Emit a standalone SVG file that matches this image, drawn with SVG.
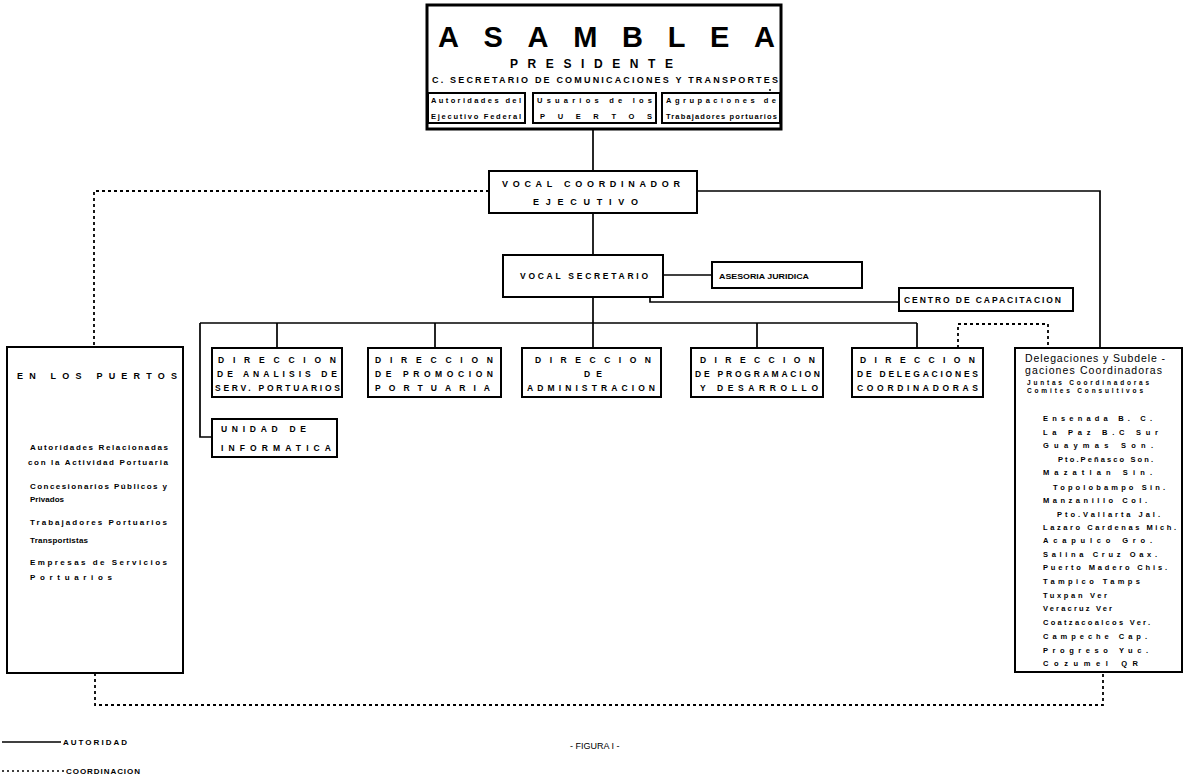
<svg xmlns="http://www.w3.org/2000/svg" width="1186" height="779" viewBox="0 0 1186 779">
<style>
.box{fill:#fff;stroke:#000;stroke-width:2}
.thick{fill:#fff;stroke:#000;stroke-width:3}
.ln{stroke:#000;stroke-width:1.7;fill:none}
.dot{stroke:#000;stroke-width:1.8;fill:none;stroke-dasharray:3 3}
text{font-family:"Liberation Sans",Arial,sans-serif;font-weight:bold;fill:#000}
text.n{font-weight:normal}
.s7{font-size:7.5px}
.s75{font-size:8.5px}
.s8{font-size:9px}
.s8r{font-size:8px}
</style>
<rect width="1186" height="779" fill="#fff"/>

<g id="connectors">
  <path class="ln" d="M593,129 V171"/>
  <path class="ln" d="M593,213 V255"/>
  <path class="ln" d="M697,191 H1100 V348"/>
  <path class="dot" d="M489,191 H94 V347"/>
  <path class="ln" d="M663,275 H712"/>
  <path class="ln" d="M650,297 V302 H899"/>
  <path class="ln" d="M593,297 V323"/>
  <path class="ln" d="M200,323 H917"/>
  <path class="ln" d="M277,323 V348 M435,323 V348 M593,323 V348 M757,323 V348 M917,323 V348"/>
  <path class="ln" d="M200,323 V437 H212"/>
  <path class="dot" d="M958,348 V324 H1048 V348"/>
  <path class="dot" d="M95,673 V705 H1103 V672"/>
</g>

<g id="asamblea">
  <rect class="thick" x="427" y="5" width="354" height="124"/>
  <text x="438" y="47" font-size="29" textLength="337">ASAMBLEA</text>
  <text x="510" y="68" font-size="12" textLength="163">PRESIDENTE</text>
  <text x="432" y="83" font-size="9" textLength="346">C. SECRETARIO DE COMUNICACIONES Y TRANSPORTES</text>
  <circle cx="770" cy="90" r="1"/>
  <rect class="box" x="428" y="93" width="97" height="30"/>
  <rect class="box" x="533" y="93" width="123" height="30"/>
  <rect class="box" x="662" y="93" width="118" height="30"/>
  <text class="s7" x="431" y="103" textLength="90">Autoridades del</text>
  <text class="s7" x="431" y="119" textLength="90">Ejecutivo Federal</text>
  <text class="s7" x="537" y="103" textLength="115">Usuarios de los</text>
  <text class="s7" x="540" y="119" textLength="112">PUERTOS</text>
  <text class="s7" x="666" y="103" textLength="110">Agrupaciones de</text>
  <text class="s7" x="666" y="119" textLength="111">Trabajadores portuarios</text>
</g>

<g id="vocal-coordinador">
  <rect class="box" x="489" y="171" width="208" height="42"/>
  <text class="s8" x="502" y="187" textLength="178">VOCAL COORDINADOR</text>
  <text class="s8" x="533" y="205" textLength="105">EJECUTIVO</text>
</g>

<g id="vocal-secretario">
  <rect class="box" x="503" y="255" width="160" height="42"/>
  <text class="s75" x="520" y="279" textLength="128">VOCAL SECRETARIO</text>
</g>

<g id="asesoria-juridica">
  <rect class="box" x="712" y="262" width="150" height="26"/>
  <text x="719" y="279" font-size="8" textLength="90" lengthAdjust="spacingAndGlyphs">ASESORIA JURIDICA</text>
</g>

<g id="centro-capacitacion">
  <rect class="box" x="899" y="288" width="174" height="23"/>
  <text class="s75" x="904" y="303" textLength="157">CENTRO DE CAPACITACION</text>
</g>

<g id="dir-analisis">
  <rect class="box" x="212" y="348" width="130" height="49"/>
  <text class="s75" x="218" y="363" textLength="118">DIRECCION</text>
  <text class="s75" x="217" y="377" textLength="120">DE ANALISIS DE</text>
  <text class="s75" x="215" y="391" textLength="125">SERV. PORTUARIOS</text>
</g>

<g id="dir-promocion">
  <rect class="box" x="368" y="348" width="133" height="49"/>
  <text class="s75" x="375" y="363" textLength="118">DIRECCION</text>
  <text class="s75" x="375" y="377" textLength="118">DE PROMOCION</text>
  <text class="s75" x="375" y="391" textLength="115">PORTUARIA</text>
</g>

<g id="dir-administracion">
  <rect class="box" x="522" y="348" width="139" height="49"/>
  <text class="s75" x="535" y="363" textLength="116">DIRECCION</text>
  <text class="s75" x="584" y="377" textLength="18">DE</text>
  <text class="s75" x="527" y="391" textLength="128">ADMINISTRACION</text>
</g>

<g id="dir-programacion">
  <rect class="box" x="691" y="348" width="132" height="49"/>
  <text class="s75" x="700" y="363" textLength="115">DIRECCION</text>
  <text class="s75" x="695" y="377" textLength="125">DE PROGRAMACION</text>
  <text class="s75" x="700" y="391" textLength="118">Y    DESARROLLO</text>
</g>

<g id="dir-delegaciones">
  <rect class="box" x="852" y="348" width="131" height="49"/>
  <text class="s75" x="860" y="363" textLength="115">DIRECCION</text>
  <text class="s75" x="857" y="377" textLength="121">DE DELEGACIONES</text>
  <text class="s75" x="857" y="391" textLength="121">COORDINADORAS</text>
</g>

<g id="unidad-informatica">
  <rect class="box" x="212" y="419" width="125" height="38"/>
  <text class="s75" x="221" y="432" textLength="85">UNIDAD      DE</text>
  <text class="s75" x="221" y="451" textLength="110">INFORMATICA</text>
</g>

<g id="en-los-puertos">
  <rect class="box" x="7" y="347" width="176" height="326"/>
  <text class="s8" x="17" y="379" textLength="160">EN  LOS  PUERTOS</text>
  <text class="s8r" x="30" y="450" textLength="138">Autoridades Relacionadas</text>
  <text class="s8r" x="28" y="465" textLength="140">con la Actividad Portuaria</text>
  <text class="s8r" x="30" y="489" textLength="137">Concesionarios Públicos y</text>
  <text class="s8r" x="30" y="502" textLength="34">Privados</text>
  <text class="s8r" x="30" y="525" textLength="137">Trabajadores Portuarios</text>
  <text class="s8r" x="30" y="543" textLength="58">Transportistas</text>
  <text class="s8r" x="30" y="565" textLength="137">Empresas de Servicios</text>
  <text class="s8r" x="30" y="580" textLength="82">Portuarios</text>
</g>

<g id="delegaciones">
  <rect class="box" x="1015" y="348" width="167" height="324"/>
  <text class="n" x="1025" y="362" font-size="10.5" textLength="140">Delegaciones y Subdele -</text>
  <text class="n" x="1025" y="374" font-size="10.5" textLength="137">gaciones  Coordinadoras</text>
  <text x="1027" y="385" font-size="6.5" textLength="122">Juntas  Coordinadoras</text>
  <text x="1027" y="393" font-size="6.5" textLength="116">Comites  Consultivos</text>
  <text class="s7" x="1043" y="421" textLength="109">Ensenada  B. C.</text>
  <text class="s7" x="1043" y="435" textLength="115">La Paz  B.C  Sur</text>
  <text class="s7" x="1043" y="448" textLength="110">Guaymas  Son.</text>
  <text class="s7" x="1058" y="462" textLength="95">Pto.Peñasco  Son.</text>
  <text class="s7" x="1043" y="475" textLength="109">Mazatlan    Sin.</text>
  <text class="s7" x="1053" y="490" textLength="112">Topolobampo  Sin.</text>
  <text class="s7" x="1043" y="503" textLength="104">Manzanillo  Col.</text>
  <text class="s7" x="1057" y="517" textLength="103">Pto.Vallarta  Jal.</text>
  <text class="s7" x="1043" y="530" textLength="133">Lazaro Cardenas Mich.</text>
  <text class="s7" x="1043" y="543" textLength="109">Acapulco  Gro.</text>
  <text class="s7" x="1043" y="557" textLength="114">Salina Cruz  Oax.</text>
  <text class="s7" x="1043" y="570" textLength="124">Puerto Madero  Chis.</text>
  <text class="s7" x="1043" y="584" textLength="97">Tampico  Tamps</text>
  <text class="s7" x="1043" y="598" textLength="64">Tuxpan  Ver</text>
  <text class="s7" x="1043" y="611" textLength="69">Veracruz  Ver</text>
  <text class="s7" x="1043" y="625" textLength="107">Coatzacoalcos  Ver.</text>
  <text class="s7" x="1043" y="639" textLength="104">Campeche  Cap.</text>
  <text class="s7" x="1043" y="653" textLength="105">Progreso  Yuc.</text>
  <text class="s7" x="1043" y="666" textLength="95">Cozumel  QR</text>
</g>

<g id="legend">
  <path class="ln" d="M2,742 H61"/>
  <text x="63" y="745" font-size="8" textLength="64">AUTORIDAD</text>
  <path stroke="#000" stroke-width="1.5" stroke-dasharray="2 3" d="M2,771 H65"/>
  <text x="66" y="774" font-size="8" textLength="74">COORDINACION</text>
  <text class="n" x="570" y="749" font-size="9">- FIGURA I -</text>
</g>
</svg>
